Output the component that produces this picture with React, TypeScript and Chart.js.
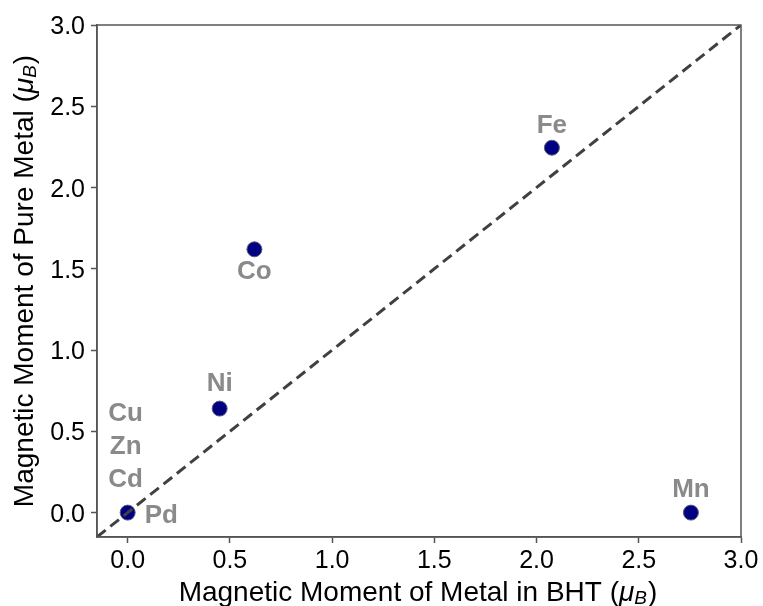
import React, { useEffect, useRef } from "react";
import { Chart, registerables } from "chart.js";

Chart.register(...registerables);

const metals = ["Pd", "Ni", "Co", "Fe", "Mn"];
const bhtMoment = [0.0, 0.45, 0.62, 2.075, 2.755];
const pureMoment = [0.0, 0.64, 1.62, 2.245, 0.0];
const stackedZeroLabels = ["Cu", "Zn", "Cd"];
const tickValues = [0, 0.5, 1.0, 1.5, 2.0, 2.5, 3.0];
const tickLabels = ["0.0", "0.5", "1.0", "1.5", "2.0", "2.5", "3.0"];
const axisMin = -0.15;
const axisMax = 3.0;

const FONT = "'Liberation Sans', Arial, sans-serif";

function drawMathTitle(ctx: CanvasRenderingContext2D, prefix: string, cx: number, cy: number, rotate: boolean) {
  ctx.save();
  ctx.translate(cx, cy);
  if (rotate) ctx.rotate(-Math.PI / 2);
  const big = `28px ${FONT}`;
  const ital = `italic 28px ${FONT}`;
  const sub = `italic 19px ${FONT}`;
  ctx.font = big;
  const w1 = ctx.measureText(prefix + "(").width;
  ctx.font = ital;
  const w2 = ctx.measureText("μ").width;
  ctx.font = sub;
  const w3 = ctx.measureText("B").width;
  ctx.font = big;
  const w4 = ctx.measureText(")").width;
  const total = w1 + w2 + w3 + w4 + 1;
  let x = -total / 2;
  ctx.fillStyle = "#000";
  ctx.textBaseline = "alphabetic";
  ctx.textAlign = "left";
  ctx.font = big;
  ctx.fillText(prefix + "(", x, 0);
  x += w1;
  ctx.font = ital;
  ctx.fillText("μ", x, 0);
  x += w2;
  ctx.font = sub;
  ctx.fillText("B", x, 3);
  x += w3 + 1;
  ctx.font = big;
  ctx.fillText(")", x, 0);
  ctx.restore();
}

const annotatePlugin = {
  id: "annotate",
  afterDatasetsDraw(chart: any) {
    const { ctx, chartArea, scales } = chart;
    const xs = scales.x;
    const ys = scales.y;
    ctx.save();
    // frame (top/right spines)
    ctx.strokeStyle = "#555";
    ctx.lineWidth = 1.5;
    ctx.strokeRect(chartArea.left, chartArea.top, chartArea.right - chartArea.left, chartArea.bottom - chartArea.top);

    // tick labels
    ctx.fillStyle = "#000";
    ctx.font = `25px ${FONT}`;
    ctx.textBaseline = "alphabetic";
    ctx.textAlign = "center";
    tickValues.forEach((v, i) => {
      ctx.fillText(tickLabels[i], xs.getPixelForValue(v), chartArea.bottom + 31);
    });
    ctx.textAlign = "right";
    tickValues.forEach((v, i) => {
      ctx.fillText(tickLabels[i], chartArea.left - 12, ys.getPixelForValue(v) + 9);
    });

    // point annotations
    ctx.font = `bold 26px ${FONT}`;
    ctx.fillStyle = "#8a8a8a";
    ctx.textBaseline = "middle";
    const place: Record<string, [number, number, string]> = {
      Pd: [17, 3, "left"],
      Ni: [0, -25, "center"],
      Co: [0, 23, "center"],
      Fe: [0, -22, "center"],
      Mn: [0, -23, "center"],
    };
    metals.forEach((m, i) => {
      const px = xs.getPixelForValue(bhtMoment[i]);
      const py = ys.getPixelForValue(pureMoment[i]);
      const [dx, dy, align] = place[m];
      ctx.textAlign = align;
      ctx.fillText(m, px + dx, py + dy);
    });
    const zx = xs.getPixelForValue(0);
    const zy = ys.getPixelForValue(0);
    ctx.textAlign = "center";
    stackedZeroLabels.forEach((m, i) => {
      ctx.fillText(m, zx - 2, zy - 33 * (stackedZeroLabels.length - i));
    });
    ctx.restore();

    drawMathTitle(ctx, "Magnetic Moment of Metal in BHT ", 418, 601, false);
    drawMathTitle(ctx, "Magnetic Moment of Pure Metal ", 33, 281, true);
  },
};

export default function App() {
  const ref = useRef<HTMLCanvasElement>(null);
  useEffect(() => {
    if (!ref.current) return;
    const axisCommon = (isX: boolean) => ({
      type: "linear" as const,
      min: axisMin,
      max: axisMax,
      afterBuildTicks: (scale: any) => {
        scale.ticks = tickValues.map((v) => ({ value: v }));
      },
      afterFit: (scale: any) => {
        if (isX) scale.height = 606 - 537;
        else scale.width = 97;
      },
      ticks: {
        color: "rgba(0,0,0,0)",
        font: { size: 20, family: FONT },
        padding: 3,
        callback: (v: any) => Number(v).toFixed(1),
      },
      grid: {
        display: true,
        drawOnChartArea: false,
        drawTicks: true,
        tickLength: 6,
        tickColor: "#555",
        tickWidth: 1.5,
      },
      border: { display: true, color: "#555", width: 1.5 },
      title: { display: false },
    });
    const chart = new Chart(ref.current, {
      type: "scatter",
      data: {
        datasets: [
          {
            type: "line",
            data: [
              { x: axisMin, y: axisMin },
              { x: axisMax, y: axisMax },
            ],
            borderColor: "#404040",
            borderWidth: 3,
            borderDash: [11, 6],
            pointRadius: 0,
            fill: false,
          } as any,
          {
            data: bhtMoment.map((x, i) => ({ x, y: pureMoment[i] })),
            backgroundColor: "#000080",
            borderColor: "#5a5a7a",
            borderWidth: 1,
            pointRadius: 7.5,
          },
        ],
      },
      options: {
        animation: false,
        responsive: false,
        layout: { padding: { left: 0, right: 22, top: 25, bottom: 0 } },
        plugins: { legend: { display: false }, tooltip: { enabled: false } },
        scales: { x: axisCommon(true), y: axisCommon(false) } as any,
      },
      plugins: [annotatePlugin],
    });
    return () => chart.destroy();
  }, []);
  return (
    <div style={{ position: "absolute", left: 0, top: 0, width: 763, height: 606, background: "#fff" }}>
      <canvas ref={ref} width={763} height={606} style={{ width: 763, height: 606 }} />
    </div>
  );
}
